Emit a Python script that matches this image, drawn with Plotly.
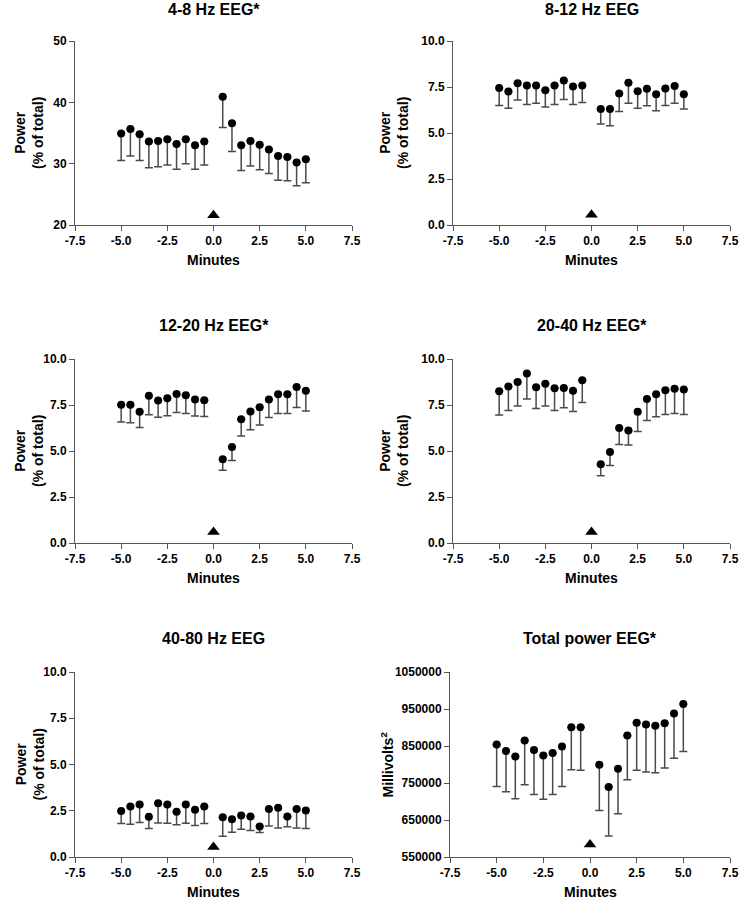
import plotly.graph_objects as go

minutes = [-5, -4.5, -4, -3.5, -3, -2.5, -2, -1.5, -1, -0.5,
           0.5, 1, 1.5, 2, 2.5, 3, 3.5, 4, 4.5, 5]

theta_mean = [34.9, 35.65, 34.8, 33.6, 33.7, 34.0, 33.2, 34.0, 33.0, 33.6,
              40.9, 36.6, 33.0, 33.7, 33.1, 32.3, 31.25, 31.1, 30.2, 30.7]
theta_err = [4.4, 4.4, 4.3, 4.25, 4.2, 4.2, 4.1, 4.0, 3.9, 3.8,
             5.0, 4.6, 4.1, 4.1, 4.1, 3.9, 3.95, 3.9, 3.8, 3.8]

alpha_mean = [7.44, 7.26, 7.71, 7.58, 7.58, 7.33, 7.58, 7.85, 7.53, 7.58,
              6.30, 6.30, 7.15, 7.73, 7.27, 7.40, 7.11, 7.42, 7.55, 7.11]
alpha_err = [0.94, 0.91, 0.92, 1.03, 0.96, 0.92, 1.03, 1.03, 0.98, 0.92,
             0.81, 0.90, 0.98, 1.11, 0.92, 0.92, 0.90, 0.92, 0.93, 0.81]

beta1_mean = [7.51, 7.51, 7.13, 8.00, 7.74, 7.87, 8.10, 8.03, 7.80, 7.76,
              4.55, 5.22, 6.73, 7.15, 7.38, 7.80, 8.09, 8.09, 8.48, 8.27]
beta1_err = [0.94, 0.98, 0.85, 1.03, 0.90, 0.96, 1.01, 0.99, 0.90, 0.88,
             0.60, 0.73, 0.92, 0.99, 0.97, 0.98, 1.05, 1.05, 1.12, 1.09]

beta2_mean = [8.25, 8.50, 8.75, 9.21, 8.47, 8.65, 8.41, 8.43, 8.27, 8.84,
              4.28, 4.95, 6.25, 6.12, 7.13, 7.82, 8.09, 8.30, 8.38, 8.34]
beta2_err = [1.30, 1.30, 1.30, 1.39, 1.16, 1.20, 1.21, 1.08, 1.12, 1.20,
             0.63, 0.74, 0.89, 0.80, 1.07, 1.16, 1.23, 1.32, 1.34, 1.36]

gamma_mean = [2.48, 2.73, 2.84, 2.17, 2.91, 2.84, 2.44, 2.84, 2.55, 2.73,
              2.15, 2.04, 2.24, 2.19, 1.65, 2.59, 2.66, 2.19, 2.59, 2.51]
gamma_err = [0.67, 0.96, 0.98, 0.63, 1.07, 1.01, 0.70, 1.01, 0.85, 0.92,
             1.03, 0.70, 0.74, 0.76, 0.33, 0.91, 1.09, 0.56, 1.02, 0.97]

total_mean = [853800, 836600, 821300, 864700, 839300, 824000, 831200, 848400, 900800, 900800,
              799600, 739000, 788700, 878200, 912600, 908100, 904500, 911700, 937900, 963200]
total_err = [113000, 110300, 114000, 119400, 120200, 117600, 112100, 107600, 114800, 116600,
             123900, 132000, 122100, 119300, 128400, 128400, 126600, 121200, 121200, 128400]

titles = ["4-8 Hz EEG*", "8-12 Hz EEG", "12-20 Hz EEG*", "20-40 Hz EEG*",
          "40-80 Hz EEG", "Total power EEG*"]
ytitles = ["Power<br>(% of total)"] * 5 + ["Millivolts<sup>2</sup>"]
y_ranges = [[20, 50], [0, 10], [0, 10], [0, 10], [0, 10], [550000, 1050000]]
y_dticks = [10, 2.5, 2.5, 2.5, 2.5, 100000]
y_formats = ["d", ".1f", ".1f", ".1f", ".1f", "d"]
x_ticks = [-7.5, -5.0, -2.5, 0.0, 2.5, 5.0, 7.5]
x_ticktext = ["-7.5", "-5.0", "-2.5", "0.0", "2.5", "5.0", "7.5"]
arrow_x = [0, 0, 0, 0, 0, 0]
arrow_y = [21.6, 0.56, 0.6, 0.6, 0.54, 583500]

means = [theta_mean, alpha_mean, beta1_mean, beta2_mean, gamma_mean, total_mean]
errs = [theta_err, alpha_err, beta1_err, beta2_err, gamma_err, total_err]

W, H = 739, 899
# pixel layout of each panel: (left, right, top, bottom)
boxes = [(75, 352, 41, 225), (453, 730, 41, 225),
         (75, 352, 359, 543), (453, 730, 359, 543),
         (75, 352, 672, 857), (450, 730, 672, 857)]
ytitle_x = [29, 394, 29, 394, 29, 387]

FONT = "Liberation Sans, Arial, Helvetica, sans-serif"
fig = go.Figure()
annotations = []
layout = {}

for i in range(6):
    xa = "x" if i == 0 else f"x{i+1}"
    ya = "y" if i == 0 else f"y{i+1}"
    l, r, t, b = boxes[i]
    fig.add_trace(go.Scatter(
        x=minutes, y=means[i], xaxis=xa, yaxis=ya, mode="markers",
        marker=dict(color="black", size=8),
        error_y=dict(type="data", symmetric=False, array=[0] * len(errs[i]),
                     arrayminus=errs[i], color="#4a4a4a", thickness=1.5, width=4),
        showlegend=False, cliponaxis=False))
    fig.add_trace(go.Scatter(
        x=[arrow_x[i]], y=[arrow_y[i]], xaxis=xa, yaxis=ya, mode="markers",
        marker=dict(color="black", size=11, symbol="triangle-up"),
        showlegend=False, cliponaxis=False))
    xkey = "xaxis" if i == 0 else f"xaxis{i+1}"
    ykey = "yaxis" if i == 0 else f"yaxis{i+1}"
    layout[xkey] = dict(
        domain=[l / W, r / W], anchor=ya, range=[-7.5, 7.5], automargin=False,
        tickvals=x_ticks, ticktext=x_ticktext, ticks="outside", ticklen=5,
        tickcolor="#555", tickwidth=1, showline=True, linecolor="#555", linewidth=1,
        showgrid=False, zeroline=False,
        tickfont=dict(family=FONT, size=12, color="black", weight="bold"))
    layout[ykey] = dict(
        domain=[1 - b / H, 1 - t / H], anchor=xa, range=y_ranges[i], automargin=False,
        dtick=y_dticks[i], tick0=y_ranges[i][0], tickformat=y_formats[i],
        ticks="outside", ticklen=5, tickcolor="#555", tickwidth=1,
        showline=True, linecolor="#555", linewidth=1,
        showgrid=False, zeroline=False,
        tickfont=dict(family=FONT, size=12, color="black", weight="bold"))
    cx = (l + r) / 2 / W
    if i < 2:
        annotations.append(dict(
            text=titles[i], x=cx, y=1, xref="paper", yref="paper",
            showarrow=False, xanchor="center", yanchor="top", yshift=1,
            font=dict(family=FONT, size=16, color="black", weight="bold")))
    else:
        annotations.append(dict(
            text=titles[i], x=cx, y=1 - (t - 34) / H, xref="paper", yref="paper",
            showarrow=False, xanchor="center", yanchor="middle",
            font=dict(family=FONT, size=16, color="black", weight="bold")))
    annotations.append(dict(
        text="Minutes", x=cx, y=1 - (b + 35) / H, xref="paper", yref="paper",
        showarrow=False, xanchor="center", yanchor="middle",
        font=dict(family=FONT, size=14, color="black", weight="bold")))
    annotations.append(dict(
        text=ytitles[i], x=ytitle_x[i] / W, y=1 - (t + b) / 2 / H,
        xref="paper", yref="paper", showarrow=False, textangle=-90,
        xanchor="center", yanchor="middle",
        font=dict(family=FONT, size=14, color="black", weight="bold")))

fig.update_layout(
    width=W, height=H, margin=dict(l=0, r=0, t=0, b=0, autoexpand=False),
    paper_bgcolor="white", plot_bgcolor="white",
    annotations=annotations, **layout)

fig.write_html("out.html", config={"displayModeBar": False},
               post_script="document.body.style.margin='0px';"
                           "document.body.style.overflow='hidden';")
